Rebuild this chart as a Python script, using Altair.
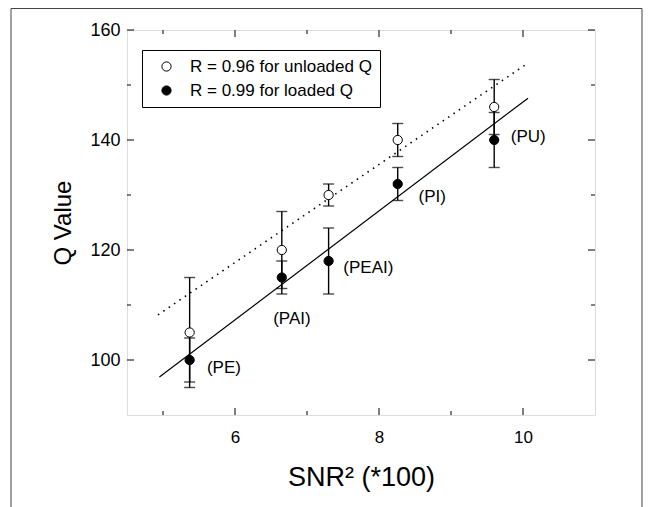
import altair as alt
import pandas as pd

# ---------------- data ----------------
series = ["R = 0.96 for unloaded Q", "R = 0.99 for loaded Q"]
samples = ["PE", "PAI", "PEAI", "PI", "PU"]
snr2 = [5.37, 6.65, 7.30, 8.26, 9.60]

q_unloaded = [105, 120, 130, 140, 146]
lo_unloaded = [95, 113, 128, 137, 141]
hi_unloaded = [115, 127, 132, 143, 151]

q_loaded = [100, 115, 118, 132, 140]
lo_loaded = [96, 112, 112, 129, 135]
hi_loaded = [104, 118, 124, 135, 145]

# fitted lines (end points as drawn)
fit_unloaded_x = [4.93, 10.07]
fit_unloaded_q = [108.2, 154.0]
fit_loaded_x = [4.95, 10.07]
fit_loaded_q = [96.9, 147.6]

# sample annotations (data coordinates)
label_text = ["(PE)", "(PAI)", "(PEAI)", "(PI)", "(PU)"]
label_x = [5.61, 6.53, 7.505, 8.55, 9.83]
label_q = [98.5, 107.5, 116.7, 129.6, 140.5]

x_labels = [6, 8, 10]
x_minor = [5, 7, 9]
y_labels = [100, 120, 140, 160]
y_minor = [110, 130, 150]

FONT = "Liberation Sans"
W, H = 468, 385

# ---------------- tables ----------------
pts = pd.DataFrame({
    "series": [series[0]] * 5 + [series[1]] * 5,
    "x": snr2 + snr2,
    "q": q_unloaded + q_loaded,
    "lo": lo_unloaded + lo_loaded,
    "hi": hi_unloaded + hi_loaded,
})
fit_u = pd.DataFrame({"x": fit_unloaded_x, "q": fit_unloaded_q})
fit_l = pd.DataFrame({"x": fit_loaded_x, "q": fit_loaded_q})
labels = pd.DataFrame({"t": label_text, "x": label_x, "q": label_q})
xt_major = pd.DataFrame({"v": x_labels})
xt_minor = pd.DataFrame({"v": x_minor})
yt_major = pd.DataFrame({"v": y_labels})
yt_minor = pd.DataFrame({"v": y_minor})
dummy = pd.DataFrame({"a": [0]})

xs = alt.Scale(domain=[4.5, 11], nice=False, zero=False)
ys = alt.Scale(domain=[90, 160], nice=False, zero=False)

x_axis = alt.Axis(values=x_labels, ticks=False, domain=False, grid=False,
                  labelFont=FONT, labelFontSize=17, labelColor="black",
                  labelPadding=14, title="SNR\u00b2 (*100)", titleFont=FONT,
                  titleFontSize=27, titleFontWeight="normal", titleColor="black",
                  titleY=70, titleBaseline="alphabetic")
y_axis = alt.Axis(values=y_labels, ticks=False, domain=False, grid=False,
                  labelFont=FONT, labelFontSize=18, labelColor="black",
                  labelPadding=7, title="Q Value", titleFont=FONT,
                  titleFontSize=24, titleFontWeight="normal", titleColor="black",
                  titleX=-64, titleBaseline="middle")

X = alt.X("x:Q", scale=xs, axis=x_axis)
Y = alt.Y("q:Q", scale=ys, axis=y_axis)

line_u = alt.Chart(fit_u).mark_line(color="black", strokeWidth=1.6,
                                    strokeDash=[1.5, 5]).encode(x=X, y=Y)
line_l = alt.Chart(fit_l).mark_line(color="black", strokeWidth=1.2).encode(x=X, y=Y)

err = alt.Chart(pts).mark_rule(color="black", strokeWidth=1.4).encode(
    x=X, y=alt.Y("lo:Q", scale=ys, axis=y_axis), y2="hi:Q")
cap_lo = alt.Chart(pts).mark_tick(orient="horizontal", size=11, thickness=1.4,
                                  color="black").encode(
    x=X, y=alt.Y("lo:Q", scale=ys, axis=y_axis))
cap_hi = alt.Chart(pts).mark_tick(orient="horizontal", size=11, thickness=1.4,
                                  color="black").encode(
    x=X, y=alt.Y("hi:Q", scale=ys, axis=y_axis))

legend = alt.Legend(orient="none", legendX=15, legendY=20, title=None,
                    strokeColor="black", fillColor="white", padding=8,
                    labelFont=FONT, labelFontSize=17, labelColor="black",
                    labelLimit=500,
                    symbolType="circle", symbolSize=85, symbolStrokeColor="black",
                    symbolStrokeWidth=1, symbolOffset=8, labelOffset=15,
                    rowPadding=6,
                    labelExpr="datum.label + '\u00a0\u00a0\u00a0\u00a0\u00a0\u00a0\u00a0\u00a0'")

points = alt.Chart(pts).mark_point(filled=True, size=85, stroke="black",
                                   strokeWidth=1, opacity=1).encode(
    x=X, y=Y,
    fill=alt.Fill("series:N", scale=alt.Scale(domain=series, range=["white", "black"]),
                  legend=legend),
)

texts = alt.Chart(labels).mark_text(align="left", baseline="middle", font=FONT,
                                    fontSize=17, color="black").encode(
    x=X, y=Y, text="t:N")

def vticks(df, length):
    b = alt.Chart(df).mark_rule(color="black", strokeWidth=1).encode(
        x=alt.X("v:Q", scale=xs, axis=x_axis), y=alt.value(H), y2=alt.value(H - length))
    t = alt.Chart(df).mark_rule(color="black", strokeWidth=1).encode(
        x=alt.X("v:Q", scale=xs, axis=x_axis), y=alt.value(0), y2=alt.value(length))
    return [b, t]

def hticks(df, length):
    l = alt.Chart(df).mark_rule(color="black", strokeWidth=1).encode(
        y=alt.Y("v:Q", scale=ys, axis=y_axis), x=alt.value(0), x2=alt.value(length))
    r = alt.Chart(df).mark_rule(color="black", strokeWidth=1).encode(
        y=alt.Y("v:Q", scale=ys, axis=y_axis), x=alt.value(W), x2=alt.value(W - length))
    return [l, r]

ticks = vticks(xt_major, 7) + vticks(xt_minor, 4) + hticks(yt_major, 7) + hticks(yt_minor, 4)

border_l = alt.Chart(dummy).mark_rule(color="#444", strokeWidth=1).encode(
    x=alt.value(-116), y=alt.value(-21.5), y2=alt.value(477))
border_r = alt.Chart(dummy).mark_rule(color="#444", strokeWidth=1).encode(
    x=alt.value(515), y=alt.value(-21.5), y2=alt.value(477))
border_t = alt.Chart(dummy).mark_rule(color="#444", strokeWidth=1).encode(
    x=alt.value(-116), x2=alt.value(515), y=alt.value(-21.5))

chart = alt.layer(
    line_u, line_l, err, cap_lo, cap_hi, points, texts, *ticks,
    border_l, border_r, border_t,
).properties(
    width=W, height=H,
    autosize=alt.AutoSizeParams(type="none"),
    padding={"left": 119, "top": 22, "right": 48, "bottom": 92},
).configure_view(
    stroke="black", strokeWidth=1.2
).configure(background="white")

chart.save("out.html", embed_options={"renderer": "svg", "actions": False})
